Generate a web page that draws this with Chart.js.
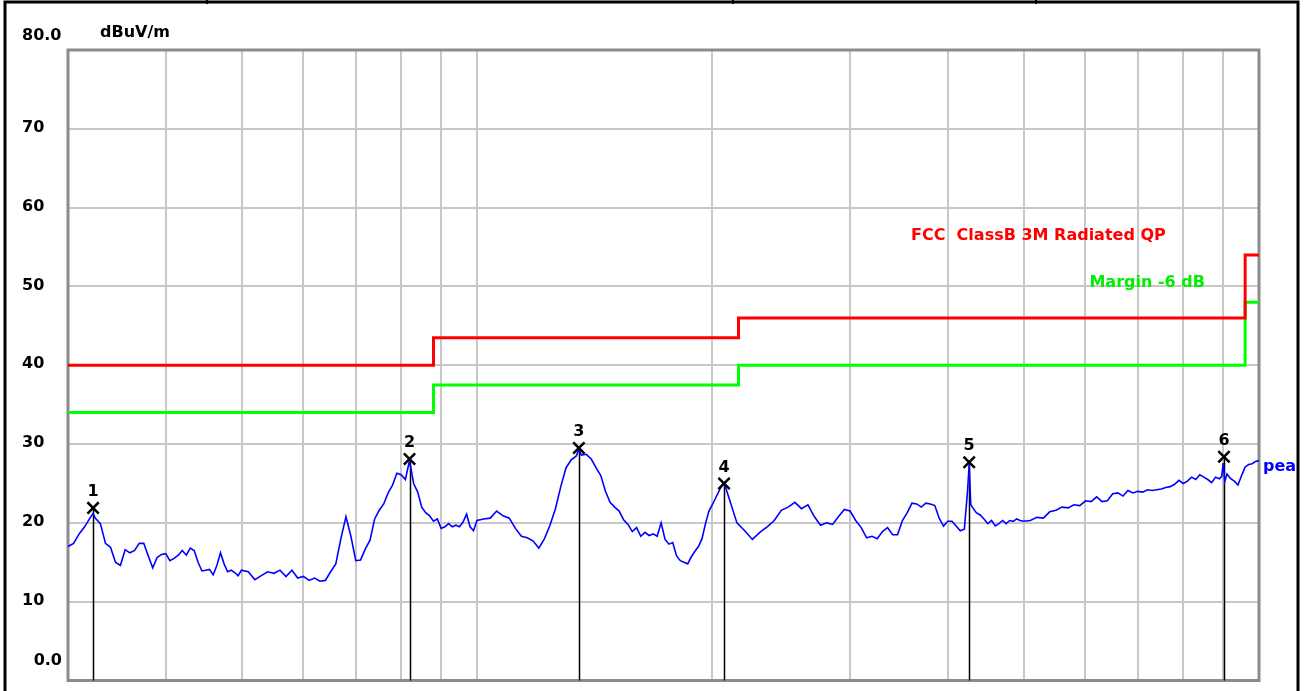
<!DOCTYPE html>
<html>
<head>
<meta charset="utf-8">
<script src="https://cdn.jsdelivr.net/npm/chart.js@4.4.1/dist/chart.umd.min.js"></script>
<style>
  html, body { margin: 0; padding: 0; background: #ffffff; }
  #wrap { position: relative; width: 1311px; height: 691px; }
</style>
</head>
<body>
<div id="wrap"><canvas id="emi_chart"></canvas></div>
<script>
// peak trace (MHz / dBuV/m)
const traceFreqMHz = [
  30, 30.5, 31, 31.5, 32, 32.3, 32.5, 33, 33.5, 34, 34.5, 35, 35.5, 36, 36.5, 37, 37.5, 38, 38.5, 39, 39.5,
  40, 40.5, 41, 41.5, 42, 42.5, 43, 43.5, 44, 44.5, 45, 45.5, 46, 46.5, 47, 47.5, 48, 48.5, 49, 49.5,
  50, 51, 52, 53, 54, 55, 56, 57, 58, 59, 60, 61, 62, 63, 64, 65, 66, 67, 68, 69,
  70, 71, 72, 73, 74, 75, 76, 77, 78, 79, 80, 81, 82, 83, 84, 85, 86, 87, 88, 89,
  90, 91, 92, 93, 94, 95, 96, 97, 98, 99, 100, 102, 104, 106, 108, 110, 112, 114, 116, 118,
  120, 122, 124, 126, 128, 130, 132, 134, 135, 136, 138, 140, 142, 144, 146, 148, 150, 152, 154, 156, 158,
  160, 162, 164, 166, 168, 170, 172, 174, 176, 178, 180, 182, 184, 186, 188, 190, 192, 194, 196, 198,
  200, 205, 207, 210, 215, 220, 225, 230, 235, 240, 245, 250, 255, 260, 265, 270, 275, 280, 285, 290, 295,
  300, 305, 310, 315, 320, 325, 330, 335, 340, 345, 350, 355, 360, 365, 370, 375, 380, 385, 390, 395,
  400, 405, 410, 415, 420, 424, 426, 428, 430, 435, 440, 445, 450, 455, 460, 465, 470, 475, 480, 485, 490, 495,
  500, 510, 520, 530, 540, 550, 560, 570, 580, 590, 600, 610, 620, 630, 640, 650, 660, 670, 680, 690,
  700, 710, 720, 730, 740, 750, 760, 770, 780, 790, 800, 810, 820, 830, 840, 850, 860, 870, 880, 890,
  896, 900, 904, 910, 920, 930, 940, 950, 960, 970, 980, 990, 1000,
]
const traceLevel = [
  17.0, 17.4, 18.6, 19.5, 20.6, 21.2, 20.6, 19.9, 17.4, 16.9, 15.0, 14.6, 16.6, 16.2, 16.5, 17.4, 17.4, 15.8, 14.3, 15.6, 16.0,
  16.1, 15.2, 15.5, 15.9, 16.5, 15.9, 16.8, 16.5, 15.0, 13.9, 14.0, 14.1, 13.4, 14.6, 16.2, 14.8, 13.8, 14.0, 13.7, 13.3,
  14.0, 13.8, 12.8, 13.3, 13.8, 13.6, 14.0, 13.2, 14.0, 13.0, 13.2, 12.7, 13.0, 12.6, 12.7, 13.8, 14.8, 18.0, 20.8, 18.3,
  15.2, 15.3, 16.7, 17.8, 20.5, 21.6, 22.4, 23.8, 24.8, 26.3, 26.1, 25.5, 27.9, 25.0, 23.9, 22.0, 21.3, 20.9, 20.2, 20.5,
  19.3, 19.5, 19.9, 19.5, 19.7, 19.5, 20.1, 21.1, 19.5, 19.0, 20.3, 20.5, 20.6, 21.5, 20.9, 20.6, 19.3, 18.3, 18.1, 17.7,
  16.8, 18.0, 19.7, 21.8, 24.6, 27.0, 28.0, 28.5, 29.3, 28.6, 28.7, 28.1, 27.0, 26.0, 24.0, 22.6, 22.0, 21.5, 20.4, 19.8, 18.9,
  19.4, 18.3, 18.8, 18.4, 18.6, 18.3, 20.0, 17.9, 17.3, 17.5, 15.8, 15.2, 15.0, 14.8, 15.7, 16.4, 17.0, 18.0, 19.9, 21.5,
  22.3, 24.5, 25.1, 23.2, 20.0, 19.0, 17.9, 18.8, 19.5, 20.3, 21.6, 22.0, 22.6, 21.8, 22.3, 20.8, 19.7, 20.0, 19.8, 20.8, 21.7,
  21.5, 20.3, 19.4, 18.1, 18.3, 18.0, 18.9, 19.4, 18.5, 18.5, 20.3, 21.3, 22.5, 22.4, 22.0, 22.5, 22.4, 22.2, 20.6, 19.6,
  20.2, 20.2, 19.6, 19.0, 19.2, 24.1, 27.4, 22.3, 22.0, 21.3, 21.0, 20.5, 19.9, 20.3, 19.6, 19.9, 20.3, 19.9, 20.3, 20.2, 20.5, 20.3,
  20.2, 20.3, 20.7, 20.6, 21.4, 21.6, 22.0, 21.9, 22.3, 22.2, 22.8, 22.7, 23.3, 22.7, 22.8, 23.7, 23.8, 23.4, 24.1, 23.8,
  24.0, 23.9, 24.2, 24.1, 24.2, 24.3, 24.5, 24.6, 24.9, 25.4, 25.0, 25.3, 25.8, 25.5, 26.1, 25.8, 25.5, 25.1, 25.8, 25.6,
  25.9, 27.6, 25.2, 26.2, 25.6, 25.3, 24.8, 26.0, 27.1, 27.4, 27.5, 27.8, 27.9,
]

// FCC Class B 3 m quasi-peak limit and the -6 dB margin line
const limitFreqMHz = [30, 88, 216, 960, 1000]
const limitLevel = [40, 43.5, 46, 54, 54]
const marginLevel = [34, 37.5, 40, 48, 48]

// marked peaks
const markerFreqMHz = [32.3, 82, 135, 207, 426, 902]
const markerLevel = [21.9, 28.1, 29.5, 25.0, 27.7, 28.4]
const markerLabels = ["1", "2", "3", "4", "5", "6"]

// axes
const xGridMHz = [30, 40, 50, 60, 70, 80, 90, 100, 200, 300, 400, 500, 600, 700, 800, 900, 1000]
const yTickValues = [0, 10, 20, 30, 40, 50, 60, 70, 80]
const yTickLabels = ["0.0", "10", "20", "30", "40", "50", "60", "70", "80.0"]

const FONT = "bold 16px 'DejaVu Sans'"

const toPoints = (xs, ys) => xs.map((x, i) => ({ x: x, y: ys[i] }))

const emiPlugin = {
  id: "emiPlugin",
  beforeDraw(chart) {
    const ctx = chart.ctx
    ctx.save()
    ctx.fillStyle = "#ffffff"
    ctx.fillRect(0, 0, chart.width, chart.height)
    ctx.restore()
  },
  beforeDatasetsDraw(chart) {
    const ctx = chart.ctx
    const area = chart.chartArea
    const xs = chart.scales.x
    const ys = chart.scales.y
    ctx.save()
    // plot frame
    ctx.strokeStyle = "#8c8c8c"
    ctx.lineWidth = 3
    ctx.strokeRect(area.left, area.top, area.right - area.left, area.bottom - area.top)
    // marker drop lines
    ctx.strokeStyle = "#000000"
    ctx.lineWidth = 1.5
    markerFreqMHz.forEach((f, i) => {
      const x = Math.round(xs.getPixelForValue(f)) + 0.5
      ctx.beginPath()
      ctx.moveTo(x, ys.getPixelForValue(markerLevel[i]))
      ctx.lineTo(x, area.bottom)
      ctx.stroke()
    })
    ctx.restore()
  },
  afterDraw(chart) {
    const ctx = chart.ctx
    const area = chart.chartArea
    const xs = chart.scales.x
    const ys = chart.scales.y
    ctx.save()
    ctx.font = FONT
    ctx.textBaseline = "middle"

    // y tick labels
    ctx.fillStyle = "#000000"
    yTickValues.forEach((v, i) => {
      const y = ys.getPixelForValue(v)
      if (v === 80) {
        ctx.textAlign = "left"
        ctx.fillText(yTickLabels[i], 22, y - 14.5)
      } else if (v === 0) {
        ctx.textAlign = "right"
        ctx.fillText(yTickLabels[i], 62, y - 20)
      } else {
        ctx.textAlign = "left"
        ctx.fillText(yTickLabels[i], 22, y - 1)
      }
    })
    ctx.textAlign = "left"
    ctx.fillText("dBuV/m", 100, area.top - 17)

    // marker numbers
    ctx.textAlign = "center"
    markerFreqMHz.forEach((f, i) => {
      ctx.fillText(markerLabels[i], xs.getPixelForValue(f), ys.getPixelForValue(markerLevel[i]) - 16)
    })

    // limit captions
    ctx.textAlign = "left"
    ctx.fillStyle = "#ff0000"
    ctx.fillText("FCC  ClassB 3M Radiated QP", xs.getPixelForValue(359), ys.getPixelForValue(56.4))
    ctx.fillStyle = "#00ee00"
    ctx.fillText("Margin -6 dB", xs.getPixelForValue(607), ys.getPixelForValue(50.5))

    // trace name, cut by the page border
    ctx.save()
    ctx.beginPath()
    ctx.rect(0, 0, 1296, chart.height)
    ctx.clip()
    ctx.fillStyle = "#0000ff"
    ctx.fillText("peak", area.right + 4, ys.getPixelForValue(traceLevel[traceLevel.length - 1]) + 6)
    ctx.restore()

    // page border
    ctx.strokeStyle = "#000000"
    ctx.lineWidth = 3
    ctx.beginPath()
    ctx.moveTo(5, 691)
    ctx.lineTo(5, 2)
    ctx.lineTo(1298, 2)
    ctx.lineTo(1298, 691)
    ctx.stroke()
    ctx.lineWidth = 2
    ;[207, 733, 1036].forEach((x) => {
      ctx.beginPath()
      ctx.moveTo(x, 0)
      ctx.lineTo(x, 4)
      ctx.stroke()
    })
    ctx.restore()
  },
}

const gridStyle = { color: "#c8c8c8", lineWidth: 2, drawTicks: false }

new Chart(document.getElementById("emi_chart"), {
  type: "line",
  plugins: [emiPlugin],
  data: {
    datasets: [
      {
        label: "markers",
        data: toPoints(markerFreqMHz, markerLevel),
        showLine: false,
        pointStyle: "crossRot",
        pointRadius: 8,
        pointBorderWidth: 2.5,
        pointBorderColor: "#000000",
        borderColor: "#000000",
        clip: false,
        order: 0,
      },
      {
        label: "peak",
        data: toPoints(traceFreqMHz, traceLevel),
        borderColor: "#0000ff",
        borderWidth: 1.6,
        pointRadius: 0,
        tension: 0,
        order: 1,
      },
      {
        label: "FCC ClassB 3M Radiated QP",
        data: toPoints(limitFreqMHz, limitLevel),
        borderColor: "#ff0000",
        borderWidth: 3,
        pointRadius: 0,
        stepped: true,
        order: 2,
      },
      {
        label: "Margin -6 dB",
        data: toPoints(limitFreqMHz, marginLevel),
        borderColor: "#00ff00",
        borderWidth: 3,
        pointRadius: 0,
        stepped: true,
        order: 3,
      },
    ],
  },
  options: {
    responsive: true,
    maintainAspectRatio: false,
    animation: false,
    devicePixelRatio: 1,
    layout: { padding: { left: 68, top: 50, right: 52, bottom: 8.5 } },
    plugins: {
      legend: { display: false },
      tooltip: { enabled: false },
    },
    scales: {
      x: {
        type: "logarithmic",
        min: 30,
        max: 1000,
        afterBuildTicks: (scale) => {
          scale.ticks = xGridMHz.map((v) => ({ value: v }))
        },
        ticks: { display: false },
        grid: gridStyle,
        border: { display: false },
      },
      y: {
        type: "linear",
        min: 0,
        max: 80,
        afterBuildTicks: (scale) => {
          scale.ticks = yTickValues.map((v) => ({ value: v }))
        },
        ticks: { display: false },
        grid: gridStyle,
        border: { display: false },
      },
    },
  },
})
</script>
</body>
</html>
